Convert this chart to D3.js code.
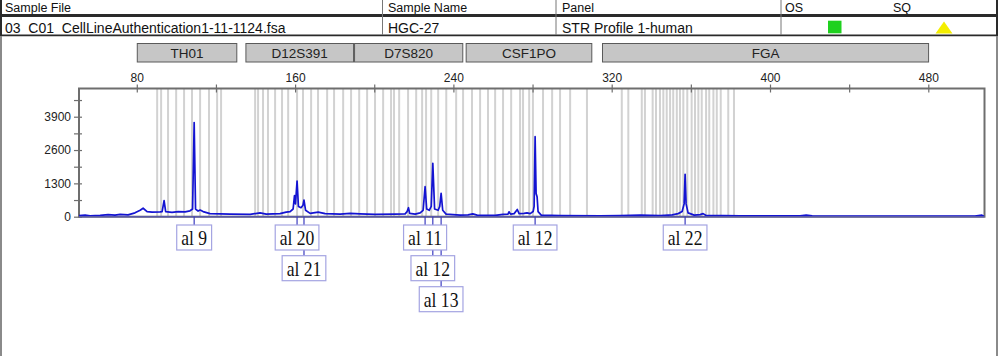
<!DOCTYPE html>
<html>
<head>
<meta charset="utf-8">
<script src="https://cdn.jsdelivr.net/npm/d3@7"></script>
<style>
  html, body { margin: 0; padding: 0; background: #fff; }
  svg { display: block; }
  .sans { font-family: "Liberation Sans", Arial, sans-serif; }
  .serif { font-family: "Liberation Serif", "Times New Roman", serif; }
</style>
</head>
<body>
<svg id="chart" width="1000" height="356"></svg>
<script>
// ---------------- DATA ----------------
const headerTitles = ["Sample File", "Sample Name", "Panel", "OS", "SQ"];
const headerValues = ["03_C01_CellLineAuthentication1-11-1124.fsa", "HGC-27", "STR Profile 1-human"];

const markerNames = ["TH01", "D12S391", "D7S820", "CSF1PO", "FGA"];
const markerStart = [80.0, 134.9, 189.8, 246.2, 315.1];
const markerEnd   = [130.8, 189.8, 245.0, 310.2, 480.4];

const xTicksMajor = [80, 160, 240, 320, 400, 480];
const xTicksMinor = [120, 200, 280, 360, 440];
const yTicksMajor = [0, 1300, 2600, 3900];
const yTicksMinor = [650, 1950, 3250, 4550];

// allelic bin positions (bp)
const binsBp = [
  90.3, 92.3, 95.8, 99.9, 103.9, 107.9, 112.0, 116.5, 120.6, 122.6,
  139.8, 141.3, 143.8, 146.3, 149.9, 153.4, 156.5, 161.0, 164.0, 168.1, 171.6, 176.2, 179.7,
  184.3, 188.3, 192.4, 196.4, 200.4, 204.5, 208.5, 210.0, 212.6, 217.1, 221.2, 224.2, 226.2, 228.8, 232.3, 236.4, 241.4,
  244.9, 249.4, 253.5, 257.5, 261.1, 265.1, 269.2, 273.7, 275.2, 278.3, 280.2, 285.3, 289.9, 293.9, 299.0, 307.5,
  325.1, 328.4, 335.2, 336.8, 340.7, 342.4, 344.4, 346.1, 347.8, 349.5, 351.1, 352.9, 354.5, 356.2, 358.2,
  360.4, 362.1, 363.8, 365.5, 367.7, 369.3, 371.4, 373.1, 375.1, 378.9, 381.8
];

// electropherogram trace (bp, RFU)
const traceBp = [
  50.8, 53.9, 56.4, 61.5, 65.5, 69.0, 71.6, 75.6, 79.1, 81.7, 83.2, 85.2, 87.7, 91.8, 92.8, 93.8, 94.6,
  97.8, 100.9, 104.4, 106.9, 108.2, 109.0, 109.7, 111.0, 112.0, 113.5, 117.0, 127.1, 137.3, 142.3, 145.4,
  152.4, 155.5, 157.5, 159.0, 159.7, 160.2, 161.0, 161.7, 163.0, 164.0, 164.5, 165.3, 167.6, 171.7, 175.2,
  182.8, 187.8, 192.8, 200.4, 210.5, 215.6, 216.6, 217.3, 217.9, 220.7, 223.2, 224.7, 225.7, 226.5, 227.8,
  228.8, 229.6, 230.5, 232.3, 233.1, 233.8, 234.6, 236.3, 243.4, 247.4, 249.8, 252.0, 261.1, 265.1, 267.6,
  268.1, 268.9, 270.7, 272.3, 273.2, 275.7, 277.2, 278.8, 280.3, 280.8, 281.3, 281.8, 282.3, 282.8, 284.4,
  294.0, 314.2, 324.3, 334.4, 339.4, 344.5, 350.6, 353.6, 355.6, 356.6, 357.1, 357.6, 358.6, 361.7, 364.7,
  366.2, 367.7, 384.9, 415.2, 418.3, 421.3, 465.7, 503.6, 507.1, 508.1
];
const traceRfu = [
  40, 60, 30, 50, 80, 60, 90, 70, 150, 250, 330, 200, 180, 190, 200, 630, 200,
  170, 200, 190, 230, 300, 3670, 300, 220, 260, 200, 120, 100, 90, 150, 100,
  120, 180, 200, 300, 820, 500, 1390, 400, 350, 450, 650, 250, 130, 180, 120,
  100, 130, 110, 90, 100, 110, 200, 350, 130, 100, 150, 250, 1170, 300, 250,
  400, 2080, 300, 250, 400, 910, 250, 100, 60, 70, 110, 60, 50, 90, 100,
  190, 100, 120, 280, 120, 130, 150, 120, 200, 400, 3120, 900, 780, 200, 60,
  40, 30, 40, 60, 50, 40, 70, 120, 200, 500, 1650, 500, 150, 60, 80,
  120, 50, 30, 30, 60, 30, 20, 20, 60, 20
];

// allele call labels
const alleleLabels = ["al 9", "al 20", "al 21", "al 11", "al 12", "al 13", "al 12", "al 22"];
const alleleBp     = [109.0, 161.0, 164.5, 225.7, 229.6, 233.8, 281.3, 357.1];
const alleleRow    = [0, 0, 1, 0, 1, 2, 0, 0];

// ---------------- LAYOUT ----------------
const svg = d3.select("#chart");
const W = 1000, H = 356;
const plot = { left: 79, right: 984.5, top: 88.5, bottom: 216.7 };

const x = d3.scaleLinear().domain([50.8, 508.4]).range([plot.left, plot.right]);
const y = d3.scaleLinear().domain([0, 5000]).range([plot.bottom, plot.top]);

svg.append("rect").attr("width", W).attr("height", H).attr("fill", "#fff");

// ---------- Header table ----------
const colX = [0, 382.5, 556, 781];
const textX = [5, 388, 562, 785, 893];
const hdr = svg.append("g").attr("class", "sans");
headerTitles.forEach((t, i) => {
  hdr.append("text").attr("x", textX[i]).attr("y", 11.5)
    .attr("font-size", 12.5).attr("fill", "#111").text(t);
});
headerValues.forEach((t, i) => {
  hdr.append("text").attr("x", textX[i]).attr("y", 33)
    .attr("font-size", 14).attr("fill", "#111").text(t);
});
// lines
hdr.append("line").attr("x1", 0).attr("x2", 998).attr("y1", 15.5).attr("y2", 15.5)
  .attr("stroke", "#2a2a2a").attr("stroke-width", 2.8);
hdr.append("line").attr("x1", 0).attr("x2", 998).attr("y1", 35.3).attr("y2", 35.3)
  .attr("stroke", "#2a2a2a").attr("stroke-width", 1.8);
colX.slice(1).forEach(cx => {
  hdr.append("line").attr("x1", cx).attr("x2", cx).attr("y1", 0).attr("y2", 35)
    .attr("stroke", "#777").attr("stroke-width", 1);
});
// outer borders
hdr.append("line").attr("x1", 1).attr("x2", 1).attr("y1", 0).attr("y2", 36)
  .attr("stroke", "#2a2a2a").attr("stroke-width", 2);
hdr.append("line").attr("x1", 1).attr("x2", 1).attr("y1", 36).attr("y2", H)
  .attr("stroke", "#8a8a8a").attr("stroke-width", 2);
hdr.append("line").attr("x1", 997).attr("x2", 997).attr("y1", 0).attr("y2", 36)
  .attr("stroke", "#2a2a2a").attr("stroke-width", 2);
hdr.append("line").attr("x1", 997).attr("x2", 997).attr("y1", 36).attr("y2", H)
  .attr("stroke", "#8a8a8a").attr("stroke-width", 2);
// OS / SQ indicators
hdr.append("rect").attr("x", 828).attr("y", 20.7).attr("width", 13.5).attr("height", 12.6)
  .attr("fill", "#1fd11f");
hdr.append("path").attr("d", "M944,21.5 L952.5,33.5 L935.5,33.5 Z").attr("fill", "#f4ee00");

// ---------- Marker bars ----------
const mk = svg.append("g").attr("class", "sans");
markerNames.forEach((m, i) => {
  const x0 = x(markerStart[i]), x1 = x(markerEnd[i]);
  mk.append("rect").attr("x", x0 + 0.5).attr("y", 43.5).attr("width", x1 - x0 - 1).attr("height", 18.5)
    .attr("fill", "#c6c6c6").attr("stroke", "#5a5a5a").attr("stroke-width", 1);
  mk.append("text").attr("x", (x0 + x1) / 2).attr("y", 57.8).attr("text-anchor", "middle")
    .attr("font-size", 13.5).attr("fill", "#222").text(m);
});

// ---------- Bins ----------
svg.append("clipPath").attr("id", "pc").append("rect")
  .attr("x", plot.left).attr("y", plot.top).attr("width", plot.right - plot.left).attr("height", plot.bottom - plot.top);
svg.append("g").attr("clip-path", "url(#pc)")
  .selectAll("line").data(binsBp).join("line")
  .attr("x1", d => x(d)).attr("x2", d => x(d))
  .attr("y1", plot.top).attr("y2", plot.bottom)
  .attr("stroke", "#d2d2d2").attr("stroke-width", 2);

// ---------- Frame ----------
svg.append("rect").attr("x", plot.left).attr("y", plot.top)
  .attr("width", plot.right - plot.left).attr("height", plot.bottom - plot.top)
  .attr("fill", "none").attr("stroke", "#6e6e6e").attr("stroke-width", 2);

// ---------- Axes ----------
const axStyle = g => {
  g.select(".domain").remove();
  g.selectAll(".tick line").attr("stroke", "#6e6e6e").attr("stroke-width", 1.2);
  g.selectAll(".tick text").attr("font-family", "Liberation Sans, Arial, sans-serif")
    .attr("font-size", 12).attr("fill", "#222");
};
svg.append("g").attr("transform", `translate(0,${plot.top})`)
  .call(d3.axisTop(x).tickValues(xTicksMajor).tickSize(4).tickPadding(3).tickFormat(d3.format("d")))
  .call(axStyle);
svg.append("g").attr("transform", `translate(0,${plot.top})`)
  .call(d3.axisBottom(x).tickValues(xTicksMajor.concat(xTicksMinor)).tickSize(4).tickFormat(""))
  .call(axStyle);
svg.append("g").attr("transform", `translate(0,${plot.top})`)
  .call(d3.axisTop(x).tickValues(xTicksMinor).tickSize(4).tickFormat(""))
  .call(axStyle);

svg.append("g").attr("transform", `translate(${plot.left},0)`)
  .call(d3.axisLeft(y).tickValues(yTicksMajor).tickSize(5).tickPadding(3).tickFormat(d3.format("d")))
  .call(axStyle);
svg.append("g").attr("transform", `translate(${plot.left},0)`)
  .call(d3.axisRight(y).tickValues(yTicksMajor.concat(yTicksMinor)).tickSize(3).tickFormat(""))
  .call(axStyle);
svg.append("g").attr("transform", `translate(${plot.left},0)`)
  .call(d3.axisLeft(y).tickValues(yTicksMinor).tickSize(5).tickFormat(""))
  .call(axStyle);

// ---------- Trace ----------
const traceData = traceBp.map((b, i) => [b, traceRfu[i]]);
svg.append("path").datum(traceData)
  .attr("d", d3.line().x(d => x(d[0])).y(d => y(d[1])))
  .attr("fill", "none").attr("stroke", "#1414d2").attr("stroke-width", 1.7)
  .attr("stroke-linejoin", "round");
svg.append("line").attr("x1", plot.left).attr("x2", plot.right)
  .attr("y1", plot.bottom).attr("y2", plot.bottom)
  .attr("stroke", "#5a5aa8").attr("stroke-width", 1.6);

// ---------- Allele labels ----------
const rowTop = [225, 255.7, 286.7];
const boxH = 25;
const lab = svg.append("g");
alleleBp.forEach((b, i) => {
  lab.append("line").attr("x1", x(b)).attr("x2", x(b))
    .attr("y1", plot.bottom).attr("y2", rowTop[alleleRow[i]])
    .attr("stroke", "#3c3cc0").attr("stroke-width", 1.2);
});
alleleLabels.forEach((t, i) => {
  const cx = x(alleleBp[i]);
  const top = rowTop[alleleRow[i]];
  const g = lab.append("g");
  const rect = g.append("rect");
  const txt = g.append("text").attr("class", "serif")
    .attr("transform", `translate(${cx},${top + 20}) scale(0.88,1)`)
    .attr("text-anchor", "middle").attr("font-size", 20).attr("fill", "#111").text(t);
  const tw = txt.node().getComputedTextLength() * 0.88;
  rect.attr("x", cx - tw / 2 - 4.5).attr("y", top).attr("width", tw + 9).attr("height", boxH)
    .attr("fill", "#fff").attr("stroke", "#a4a4e2").attr("stroke-width", 1.2);
});
</script>
</body>
</html>
